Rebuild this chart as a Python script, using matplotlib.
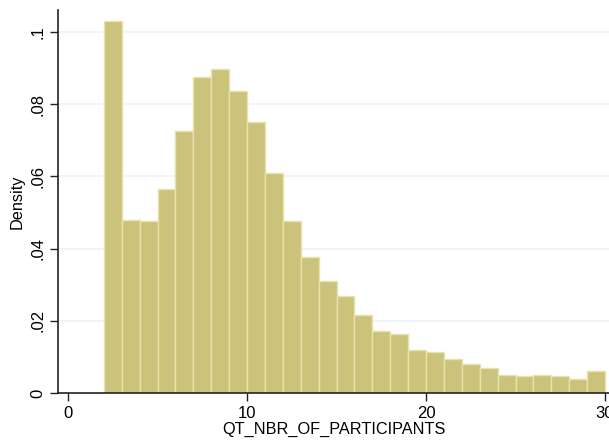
import matplotlib
matplotlib.use("Agg")
import matplotlib.pyplot as plt
import numpy as np

plt.rcParams['font.family'] = ['Liberation Sans', 'DejaVu Sans']

bin_edges = list(range(2, 31))
density = [0.1031, 0.0480, 0.0476, 0.0565, 0.0725, 0.0875, 0.0897, 0.0836,
           0.0750, 0.0609, 0.0476, 0.0376, 0.0309, 0.0268, 0.0216, 0.0172,
           0.0164, 0.0120, 0.0113, 0.0094, 0.0080, 0.0068, 0.0050, 0.0046,
           0.0050, 0.0046, 0.0039, 0.0061]
xticks = [0, 10, 20, 30]
yticks = [0, 0.02, 0.04, 0.06, 0.08, 0.1]
ytick_labels = ["0", ".02", ".04", ".06", ".08", ".1"]
xlabel = "QT_NBR_OF_PARTICIPANTS"
ylabel = "Density"

W, H = 609, 442
fig = plt.figure(figsize=(W / 100, H / 100), dpi=100)
fig.patch.set_facecolor("white")
ax = fig.add_axes([58 / W, 49 / H, (W - 58) / W, (393 - 10) / H])

lefts = np.array(bin_edges[:-1])
widths = np.diff(bin_edges)
ax.bar(lefts, density, width=widths, align='edge', color='#CBC27B',
       edgecolor='#E8E2AC', linewidth=1.0, zorder=2)

for y in yticks[1:]:
    ax.axhline(y, color='#EEF3F6', linewidth=1.2, zorder=1)

ax.set_xlim(-0.56, 30.22)
ax.set_ylim(0, 0.1061)

ax.set_xticks(xticks)
ax.set_xticklabels([str(t) for t in xticks], fontsize=12)
ax.set_yticks(yticks)
ax.set_yticklabels(ytick_labels, fontsize=12, rotation=90, va='center')

ax.tick_params(axis='both', direction='out', length=6, width=1, color='#222222', pad=3)
for s in ['top', 'right']:
    ax.spines[s].set_visible(False)
for s in ['left', 'bottom']:
    ax.spines[s].set_color('#222222')
    ax.spines[s].set_linewidth(1.2)

ax.set_xlabel(xlabel, fontsize=11.7, labelpad=1)
ax.set_ylabel(ylabel, fontsize=11.7, labelpad=4)

fig.savefig("out.png", dpi=100, facecolor="white")
